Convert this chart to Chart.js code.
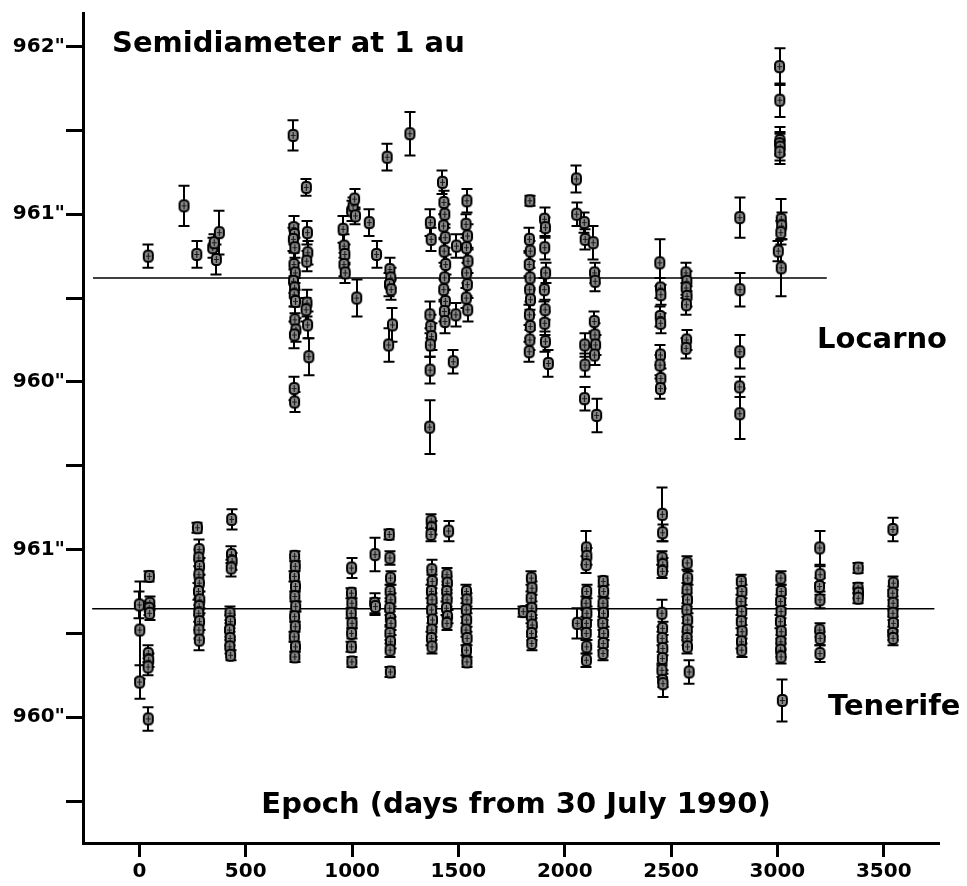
<!DOCTYPE html>
<html><head><meta charset="utf-8">
<script src="https://cdn.jsdelivr.net/npm/chart.js@4/dist/chart.umd.min.js"></script>
<style>html,body{margin:0;padding:0;background:#fff;}canvas{display:block;}</style>
</head><body>
<canvas id="c" width="967" height="886"></canvas>
<script>
// ---- Locarno: epoch (days), semidiameter ("), error (")
const locDays = [42,210,270,345,352,362,376,
 723,726,729,724,731,727,733,725,730,728,734,731,736,729,728,730,
 785,790,792,787,788,784,791,797,
 958,963,966,962,968,998,1005,1012,1016,1022,1081,1115,
 1165,1178,1182,1176,1184,1190,1172,1272,
 1368,1372,1366,1370,1374,1368,1367,1365,
 1425,1432,1436,1430,1438,1433,1440,1435,1431,1439,1434,1437,1491,1488,1476,
 1540,1536,1543,1538,1545,1539,1542,1537,1544,
 1836,1834,1838,1833,1837,1835,1839,1834,1838,1836,1833,
 1905,1909,1906,1910,1904,1908,1906,1909,1923,
 2055,2056,2092,2096,2134,2140,2143,2139,2142,2145,2140,2094,2095,2093,2150,
 2447,2450,2452,2449,2451,2450,2448,2452,2450,
 2570,2574,2571,2575,2572,2573,2571,
 2823,2824,2823,2822,2823,
 3010,3011,3012,3010,3013,3011,3018,3020,3016,3004,3018];
const locVals = [960.75,961.05,960.76,960.80,960.83,960.73,960.89,
 961.47,960.92,960.88,960.85,960.80,960.70,960.65,960.60,960.56,960.52,960.48,960.37,960.31,960.28,959.96,959.88,
 961.16,960.89,960.77,960.72,960.47,960.43,960.34,960.15,
 960.91,960.81,960.76,960.70,960.65,961.02,961.05,961.09,960.99,960.50,960.95,960.76,
 961.34,960.67,960.62,960.58,960.55,960.34,960.22,961.48,
 960.95,960.85,960.40,960.33,960.27,960.22,960.07,959.73,
 961.19,961.07,961.00,960.93,960.86,960.78,960.70,960.62,960.55,960.48,960.42,960.36,960.81,960.40,960.12,
 961.08,960.94,960.87,960.80,960.72,960.65,960.58,960.50,960.43,
 961.08,960.85,960.78,960.70,960.62,960.55,960.49,960.40,960.33,960.25,960.18,
 960.97,960.92,960.80,960.65,960.55,960.43,960.35,960.24,960.11,
 961.21,961.00,960.95,960.85,960.83,960.65,960.60,960.36,960.28,960.22,960.16,960.22,960.10,959.90,959.80,
 960.71,960.56,960.52,960.39,960.35,960.16,960.10,960.02,959.96,
 960.65,960.60,960.56,960.51,960.46,960.25,960.20,
 960.98,960.55,960.18,959.97,959.81,
 961.88,961.68,961.44,961.42,961.40,961.37,960.97,960.93,960.89,960.78,960.68];
const locErr = [0.07,0.12,0.08,0.06,0.05,0.09,0.13,
 0.09,0.07,0.06,0.07,0.06,0.07,0.06,0.07,0.06,0.07,0.07,0.08,0.07,0.08,0.07,0.06,
 0.05,0.07,0.07,0.06,0.08,0.07,0.08,0.11,
 0.08,0.07,0.06,0.07,0.06,0.06,0.05,0.06,0.05,0.11,0.08,0.08,
 0.08,0.07,0.06,0.07,0.06,0.10,0.10,0.13,
 0.08,0.07,0.08,0.07,0.08,0.07,0.08,0.16,
 0.07,0.07,0.06,0.07,0.06,0.07,0.06,0.07,0.06,0.07,0.06,0.07,0.07,0.07,0.07,
 0.07,0.06,0.07,0.06,0.07,0.06,0.07,0.06,0.07,
 0.03,0.07,0.06,0.07,0.06,0.07,0.06,0.06,0.07,0.06,0.06,
 0.07,0.06,0.07,0.06,0.07,0.06,0.07,0.06,0.08,
 0.08,0.07,0.06,0.06,0.10,0.06,0.06,0.06,0.07,0.06,0.06,0.07,0.07,0.07,0.10,
 0.14,0.06,0.06,0.06,0.06,0.06,0.06,0.06,0.06,
 0.06,0.06,0.06,0.06,0.06,0.06,0.06,
 0.12,0.10,0.10,0.06,0.15,
 0.11,0.10,0.08,0.07,0.08,0.07,0.12,0.08,0.07,0.06,0.17];

// ---- Tenerife: epoch (days), semidiameter ("), error (")
const tenDays = [0,2,1,47,49,46,48,42,44,41,42,
 273,281,279,283,280,282,278,284,281,279,283,280,282,
 434,433,436,432,426,428,424,427,425,429,
 730,733,729,734,731,735,730,733,728,734,731,
 998,997,999,996,1000,998,997,999,1108,1106,1110,
 1175,1178,1181,1179,1182,1177,1180,1183,1178,1181,1179,1180,
 1372,1374,1371,1375,1377,1373,1376,1374,1378,1375,1373,1376,
 1454,1446,1448,1445,1447,1444,1449,1446,
 1538,1540,1537,1539,1536,1541,1538,1540,
 1805,1843,1846,1842,1845,1843,1847,1844,1845,
 2059,2102,2104,2101,2103,2100,2104,2102,2101,2103,2102,
 2181,2183,2180,2182,2179,2183,2181,2180,
 2459,2460,2458,2461,2459,2457,2460,2458,2461,2459,2457,2460,2462,
 2576,2578,2575,2577,2574,2578,2576,2575,2577,2585,
 2830,2833,2829,2832,2830,2834,2831,2832,
 3016,3018,3015,3017,3014,3018,3016,3015,3017,3023,
 3199,3201,3198,3200,3199,3201,3200,
 3380,3379,3381,3380,
 3543,3545,3542,3544,3543,3545,3542,3544];
const tenVals = [960.67,960.52,960.21,960.84,960.68,960.65,960.62,960.38,960.34,960.30,959.99,
 961.13,961.00,960.95,960.90,960.85,960.80,960.75,960.70,960.66,960.62,960.57,960.52,960.46,
 961.18,960.97,960.93,960.89,960.62,960.57,960.52,960.47,960.42,960.37,
 960.96,960.90,960.84,960.78,960.72,960.66,960.60,960.54,960.48,960.42,960.36,
 960.89,960.74,960.68,960.62,960.56,960.50,960.42,960.33,960.97,960.68,960.66,
 961.09,960.95,960.83,960.75,960.70,960.65,960.59,960.56,960.50,960.45,960.40,960.27,
 961.17,961.13,961.09,960.88,960.81,960.75,960.70,960.64,960.58,960.52,960.47,960.42,
 961.11,960.85,960.80,960.75,960.70,960.65,960.60,960.56,
 960.75,960.70,960.64,960.58,960.52,960.47,960.40,960.33,
 960.63,960.83,960.77,960.71,960.65,960.60,960.55,960.50,960.44,
 960.56,961.01,960.96,960.91,960.75,960.68,960.62,960.56,960.50,960.42,960.34,
 960.81,960.75,960.68,960.62,960.56,960.50,960.44,960.38,
 961.21,961.10,960.95,960.91,960.87,960.62,960.53,960.47,960.41,960.35,960.28,960.22,960.20,
 960.92,960.83,960.76,960.70,960.64,960.58,960.52,960.47,960.42,960.27,
 960.81,960.75,960.69,960.63,960.57,960.51,960.45,960.40,
 960.83,960.75,960.69,960.63,960.57,960.51,960.45,960.40,960.36,960.10,
 961.01,960.85,960.78,960.70,960.52,960.47,960.38,
 960.89,960.77,960.74,960.71,
 961.12,960.80,960.74,960.68,960.62,960.56,960.50,960.47];
const tenErr = [0.08,0.29,0.10,0.03,0.04,0.04,0.04,0.05,0.04,0.05,0.07,
 0.03,0.06,0.05,0.05,0.05,0.05,0.05,0.05,0.05,0.05,0.05,0.05,0.06,
 0.06,0.05,0.05,0.05,0.04,0.04,0.04,0.04,0.04,0.03,
 0.03,0.03,0.03,0.03,0.03,0.03,0.03,0.03,0.03,0.03,0.03,
 0.06,0.03,0.03,0.03,0.03,0.03,0.03,0.03,0.10,0.06,0.05,
 0.03,0.04,0.04,0.04,0.04,0.04,0.04,0.04,0.04,0.04,0.04,0.03,
 0.04,0.04,0.04,0.06,0.04,0.04,0.04,0.04,0.04,0.04,0.04,0.04,
 0.06,0.04,0.04,0.04,0.04,0.04,0.04,0.04,
 0.04,0.04,0.04,0.04,0.04,0.04,0.03,0.03,
 0.03,0.04,0.04,0.04,0.04,0.04,0.04,0.04,0.04,
 0.09,0.10,0.05,0.05,0.04,0.04,0.04,0.04,0.04,0.04,0.04,
 0.03,0.04,0.04,0.04,0.04,0.04,0.04,0.04,
 0.16,0.05,0.04,0.04,0.04,0.08,0.04,0.04,0.04,0.04,0.04,0.04,0.08,
 0.04,0.04,0.04,0.04,0.04,0.04,0.04,0.04,0.04,0.07,
 0.04,0.04,0.04,0.04,0.04,0.04,0.04,0.04,
 0.04,0.04,0.04,0.04,0.04,0.04,0.04,0.04,0.04,0.125,
 0.10,0.05,0.05,0.05,0.04,0.04,0.05,
 0.03,0.03,0.03,0.03,
 0.07,0.04,0.04,0.04,0.04,0.04,0.04,0.04];

// mean lines
const locMeanDays = [-218, 3232];
const locMeanVal = 960.62;
const tenMeanDays = [-222, 3738];
const tenMeanVal = 960.647;
// Tenerife is drawn shifted down by this many arcseconds
const TEN_SHIFT = 2;

// axes
const xTicks = [0, 500, 1000, 1500, 2000, 2500, 3000, 3500];
const yTicks = [957.5, 958, 958.5, 959, 959.5, 960, 960.5, 961, 961.5, 962];
const yTickLabels = ['', '960"', '', '961"', '', '960"', '', '961"', '', '962"'];

const titleText = 'Semidiameter at 1 au';
const xTitleText = 'Epoch (days from 30 July 1990)';
const locLabel = 'Locarno';
const tenLabel = 'Tenerife';

function makeMarker() {
  const c = document.createElement('canvas');
  c.width = 13; c.height = 15;
  const g = c.getContext('2d');
  const x = 2, y = 2, w = 9, h = 11, r = 3.5;
  g.beginPath();
  g.moveTo(x + r, y); g.lineTo(x + w - r, y); g.arcTo(x + w, y, x + w, y + r, r);
  g.lineTo(x + w, y + h - r); g.arcTo(x + w, y + h, x + w - r, y + h, r);
  g.lineTo(x + r, y + h); g.arcTo(x, y + h, x, y + h - r, r);
  g.lineTo(x, y + r); g.arcTo(x, y, x + r, y, r);
  g.closePath();
  g.fillStyle = '#8c8c8c'; g.fill();
  g.strokeStyle = '#000'; g.lineWidth = 2; g.stroke();
  g.beginPath(); g.strokeStyle = '#1a1a1a'; g.lineWidth = 1.2;
  g.moveTo(6.5, 4); g.lineTo(6.5, 11); g.moveTo(4, 7.5); g.lineTo(9, 7.5); g.stroke();
  return c;
}
const marker = makeMarker();

const locPts = locDays.map((d, i) => ({x: d, y: locVals[i]}));
const tenPts = tenDays.map((d, i) => ({x: d, y: tenVals[i] - TEN_SHIFT}));

const errorBars = {
  id: 'errorBars',
  beforeDatasetsDraw(chart) {
    const ctx = chart.ctx, xs = chart.scales.x, ys = chart.scales.y;
    chart.data.datasets.forEach(ds => {
      if (!ds.errors) return;
      ctx.save();
      ctx.strokeStyle = '#000'; ctx.lineWidth = 2;
      ds.data.forEach((p, j) => {
        const e = ds.errors[j];
        const px = Math.round(xs.getPixelForValue(p.x));
        const yt = ys.getPixelForValue(p.y + e), yb = ys.getPixelForValue(p.y - e);
        ctx.beginPath();
        ctx.moveTo(px, yt); ctx.lineTo(px, yb);
        ctx.moveTo(px - 5.5, yt); ctx.lineTo(px + 5.5, yt);
        ctx.moveTo(px - 5.5, yb); ctx.lineTo(px + 5.5, yb);
        ctx.stroke();
      });
      ctx.restore();
    });
  }
};

const textPlugin = {
  id: 'texts',
  afterDraw(chart) {
    const ctx = chart.ctx;
    ctx.save();
    ctx.fillStyle = '#000';
    ctx.font = 'bold 29px "DejaVu Sans"';
    ctx.textBaseline = 'alphabetic';
    ctx.textAlign = 'left';
    ctx.fillText(titleText, 112, 52);
    ctx.fillText(locLabel, 817, 348);
    ctx.fillText(tenLabel, 828, 715);
    ctx.textAlign = 'center';
    ctx.fillText(xTitleText, 516, 813);
    ctx.restore();
  }
};

const axisFont = {family: 'DejaVu Sans', weight: 'bold', size: 20};

new Chart(document.getElementById('c'), {
  type: 'scatter',
  data: {
    datasets: [
      {data: locMeanDays.map(d => ({x: d, y: locMeanVal})), showLine: true, borderColor: '#000', borderWidth: 1.5, pointRadius: 0, order: 3},
      {data: tenMeanDays.map(d => ({x: d, y: tenMeanVal - TEN_SHIFT})), showLine: true, borderColor: '#000', borderWidth: 1.5, pointRadius: 0, order: 3},
      {data: locPts, errors: locErr, pointStyle: marker, pointRadius: 5, order: 1},
      {data: tenPts, errors: tenErr, pointStyle: marker, pointRadius: 5, order: 1}
    ]
  },
  options: {
    responsive: false, animation: false, devicePixelRatio: 1,
    layout: {padding: {top: 9, right: 29, left: 0, bottom: 0}},
    plugins: {legend: {display: false}, tooltip: {enabled: false}},
    scales: {
      x: {
        type: 'linear', min: -265, max: 3755,
        afterBuildTicks: s => { s.ticks = xTicks.map(v => ({value: v})); },
        afterFit: s => { s.height = 43; },
        grid: {display: true, drawOnChartArea: false, drawTicks: true, tickLength: 14, color: '#000', lineWidth: 3},
        border: {display: true, color: '#000', width: 3},
        ticks: {autoSkip: false, maxRotation: 0, color: '#000', font: axisFont, padding: 3, callback: v => String(v)}
      },
      y: {
        type: 'linear', min: 957.25, max: 962.2,
        afterBuildTicks: s => { s.ticks = yTicks.map(v => ({value: v})); },
        afterFit: s => { s.width = 83; },
        grid: {display: true, drawOnChartArea: false, drawTicks: true, tickLength: 17, color: '#000', lineWidth: 3},
        border: {display: true, color: '#000', width: 3},
        ticks: {autoSkip: false, color: '#000', font: axisFont, padding: 1,
          callback: v => { const k = yTicks.indexOf(v); return k >= 0 ? yTickLabels[k] : ''; }}
      }
    }
  },
  plugins: [errorBars, textPlugin]
});
</script>
</body></html>
